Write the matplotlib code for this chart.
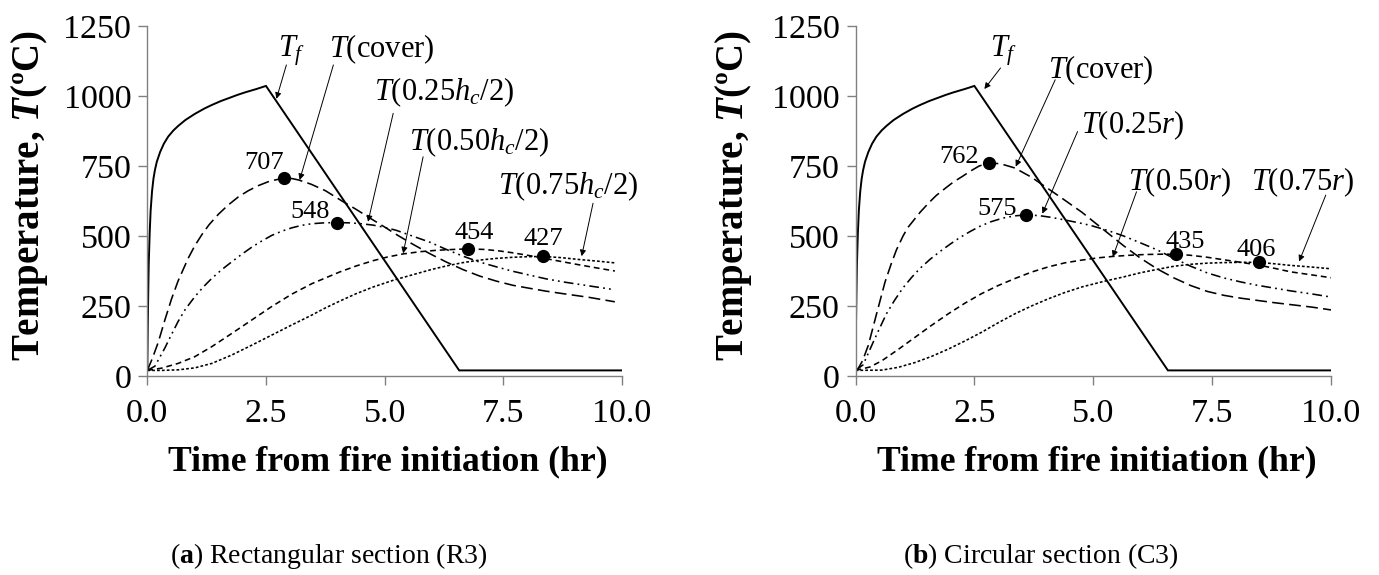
import matplotlib
matplotlib.use("Agg")
import matplotlib.pyplot as plt

plt.rcParams['font.family'] = ['Liberation Serif', 'DejaVu Serif']
plt.rcParams['mathtext.fontset'] = 'custom'
plt.rcParams['mathtext.rm'] = 'Liberation Serif'
plt.rcParams['mathtext.it'] = 'Liberation Serif:italic'
plt.rcParams['mathtext.bf'] = 'Liberation Serif:bold'
plt.rcParams['mathtext.bfit'] = 'Liberation Serif:bold:italic'
plt.rcParams['lines.scale_dashes'] = False

# ---------------- data: fire curve (same for both panels) ----------------
tf_t = [0, 0.01, 0.02, 0.03, 0.05, 0.07, 0.1, 0.13, 0.16, 0.2, 0.27, 0.35, 0.44, 0.55, 0.65, 0.8, 1.0,
        1.2, 1.36, 1.55, 1.71, 1.9, 2.06, 2.3, 2.5, 6.57, 10.0]
tf_T = [20, 180, 300, 400, 510, 590, 660, 705, 735, 765, 800, 830, 855, 877, 893, 914, 936,
        955, 968, 982, 992, 1004, 1013, 1025, 1036, 20, 20]

# ---------------- (a) rectangular section R3 ----------------
a_cover_t = [0, 0.1, 0.23, 0.37, 0.51, 0.65, 0.86, 1.0, 1.15, 1.3, 1.5, 1.7, 1.92, 2.13, 2.34, 2.55, 2.69,
             2.88, 3.05, 3.19, 3.45, 3.75, 4.13, 4.4, 4.7, 5.0, 5.25, 5.6, 5.95, 6.3, 6.65, 7.0, 7.35,
             7.7, 8.06, 8.4, 8.76, 9.3, 9.85]
a_cover_T = [20, 60, 120, 200, 275, 340, 420, 465, 505, 540, 578, 610, 640, 662, 680, 694, 700,
             707, 705, 700, 685, 662, 622, 595, 563, 532, 505, 470, 437, 407, 380, 357, 339,
             324, 313, 303, 294, 281, 265]
a_q25_t = [0, 0.16, 0.37, 0.5, 0.65, 0.8, 1.0, 1.18, 1.36, 1.57, 1.78, 2.0, 2.2, 2.41, 2.62, 2.83, 3.04,
           3.25, 3.47, 3.73, 3.99, 4.25, 4.5, 4.75, 5.0, 5.25, 5.5, 5.75, 5.95, 6.3, 6.65, 7.0, 7.35,
           7.7, 8.06, 8.4, 8.76, 9.3, 9.85]
a_q25_T = [20, 35, 100, 145, 195, 238, 283, 318, 349, 380, 408, 436, 460, 482, 502, 517, 529,
           538, 544, 547, 548, 547, 544, 539, 531, 520, 505, 490, 478, 452, 428, 407, 390,
           374, 360, 347, 336, 322, 308]
a_q50_t = [0, 0.3, 0.65, 1.0, 1.36, 1.78, 2.2, 2.62, 3.04, 3.47, 3.75, 4.06, 4.4, 4.76, 5.06, 5.39, 5.75,
           6.1, 6.45, 6.76, 7.1, 7.4, 7.7, 8.05, 8.4, 8.75, 9.1, 9.5, 9.85]
a_q50_T = [20, 28, 45, 69, 105, 152, 200, 248, 292, 330, 350, 372, 393, 412, 425, 436, 444,
           449, 452, 454, 452, 447, 440, 430, 419, 408, 397, 385, 375]
a_q75_t = [0, 0.3, 0.65, 1.0, 1.36, 1.78, 2.2, 2.62, 3.04, 3.47, 3.75, 4.06, 4.4, 4.76, 5.2, 5.6, 6.0,
           6.3, 6.65, 7.0, 7.35, 7.7, 8.0, 8.34, 8.7, 9.1, 9.5, 9.85]
a_q75_T = [20, 20, 22, 29, 45, 75, 110, 146, 182, 218, 243, 268, 294, 318, 343, 362, 381,
           393, 405, 414, 420, 424, 426, 427, 423, 416, 410, 404]
a_peak_t = [2.88, 3.99, 6.76, 8.34]
a_peak_T = [707, 548, 454, 427]

# ---------------- (b) circular section C3 ----------------
b_cover_t = [0, 0.05, 0.15, 0.27, 0.44, 0.62, 0.75, 0.86, 1.0, 1.1, 1.36, 1.55, 1.7, 1.9, 2.06, 2.25, 2.4,
             2.6, 2.81, 3.05, 3.35, 3.7, 4.06, 4.4, 4.76, 5.2, 5.64, 6.0, 6.35, 6.7, 7.05, 7.4, 7.75,
             8.1, 8.45, 8.8, 9.15, 9.6, 10.0]
b_cover_T = [20, 25, 55, 110, 220, 335, 400, 450, 500, 530, 585, 620, 645, 672, 693, 713, 730,
             750, 761, 758, 743, 710, 668, 628, 585, 525, 465, 420, 382, 350, 323, 302, 288,
             278, 270, 262, 255, 246, 236]
b_q25_t = [0, 0.16, 0.37, 0.5, 0.65, 0.82, 1.0, 1.18, 1.36, 1.57, 1.78, 2.0, 2.2, 2.41, 2.62, 2.85, 3.1,
           3.35, 3.58, 3.85, 4.1, 4.41, 4.7, 4.94, 5.3, 5.64, 6.0, 6.35, 6.7, 7.05, 7.4, 7.75, 8.1,
           8.45, 8.8, 9.15, 9.6, 10.0]
b_q25_T = [20, 40, 120, 168, 222, 270, 315, 352, 385, 417, 445, 472, 495, 516, 535, 551, 564,
           572, 575, 573, 567, 557, 547, 538, 520, 500, 475, 450, 420, 392, 368, 350, 336,
           324, 314, 304, 293, 282]
b_q50_t = [0, 0.3, 0.55, 0.9, 1.25, 1.6, 1.95, 2.3, 2.65, 3.0, 3.35, 3.7, 4.06, 4.4, 4.76, 5.1, 5.41,
           5.75, 6.1, 6.45, 6.75, 7.05, 7.4, 7.75, 8.1, 8.45, 8.8, 9.15, 9.6, 10.0]
b_q50_T = [20, 32, 54, 95, 138, 181, 222, 260, 294, 323, 348, 371, 390, 404, 414, 422, 427,
           431, 434, 435, 435, 431, 424, 415, 406, 397, 385, 372, 361, 351]
b_q75_t = [0, 0.55, 0.9, 1.25, 1.6, 1.95, 2.3, 2.65, 3.0, 3.35, 3.7, 4.06, 4.4, 4.76, 5.2, 5.64, 6.0,
           6.35, 6.7, 7.05, 7.4, 7.75, 8.1, 8.48, 8.8, 9.15, 9.6, 10.0]
b_q75_T = [20, 21, 31, 48, 70, 96, 125, 156, 190, 222, 250, 276, 298, 318, 337, 354, 369,
           381, 392, 399, 403, 405, 406, 406, 401, 395, 389, 383]
b_peak_t = [2.81, 3.58, 6.75, 8.48]
b_peak_T = [762, 575, 435, 406]

x_ticks = [0, 2.5, 5.0, 7.5, 10.0]
x_ticklabels = ['0.0', '2.5', '5.0', '7.5', '10.0']
y_ticks = [0, 250, 500, 750, 1000, 1250]

# annotation layouts: (label, text_xy, arrow_start, arrow_tip)
a_labels = [
    (r'$T_f$', (3.05, 1160), (2.93, 1111), (2.72, 990)),
    (r'$T$(cover)', (4.95, 1168), (3.92, 1111), (3.21, 700)),
    (r'$T$(0.25$h_c$/2)', (6.25, 1015), (5.18, 938), (4.65, 551)),
    (r'$T$(0.50$h_c$/2)', (7.0, 834), (5.81, 783), (5.39, 438)),
    (r'$T$(0.75$h_c$/2)', (8.86, 679), (9.39, 617), (9.15, 428)),
]
a_num_xy = [(2.46, 761), (3.42, 587), (6.88, 511), (8.34, 489)]
b_labels = [
    (r'$T_f$', (3.11, 1160), (3.05, 1100), (2.71, 1025)),
    (r'$T$(cover)', (5.15, 1092), (4.2, 1058), (3.37, 748)),
    (r'$T$(0.25$r$)', (5.82, 895), (4.67, 873), (3.93, 580)),
    (r'$T$(0.50$r$)', (6.81, 691), (5.91, 658), (5.41, 425)),
    (r'$T$(0.75$r$)', (9.4, 691), (9.89, 646), (9.33, 409)),
]
b_num_xy = [(2.17, 783), (2.98, 598), (6.93, 478), (8.43, 449)]

W, H = 1379, 575
fig = plt.figure(figsize=(W / 100, H / 100), dpi=100)

GRAY = '#808080'
ls_cover = dict(color='black', lw=1.15, linestyle=(0, (8.5, 3.8)))
ls_q25 = dict(color='black', lw=1.15, linestyle=(0, (7, 3, 1.3, 3, 1.3, 3)))
ls_q50 = dict(color='black', lw=1.15, linestyle=(0, (4.2, 2.8)))
ls_q75 = dict(color='black', lw=1.15, linestyle=(0, (2.0, 1.5)))


def panel(rect, cover, q25, q50, q75, peaks, labels, num_xy):
    ax = fig.add_axes(rect)
    ax.plot(tf_t, tf_T, color='black', lw=1.4, solid_joinstyle='miter')
    ax.plot(*cover, **ls_cover)
    ax.plot(*q25, **ls_q25)
    ax.plot(*q50, **ls_q50)
    ax.plot(*q75, **ls_q75)
    ax.plot(peaks[0], peaks[1], 'o', color='black', ms=8.5, zorder=5)
    for (x, y), v in zip(num_xy, peaks[1]):
        ax.text(x, y, str(v), fontsize=19, ha='center', va='center')
    for lab, txy, a0, a1 in labels:
        ax.text(txy[0], txy[1], lab, fontsize=22, ha='center', va='center')
        ax.annotate('', xy=a1, xytext=a0,
                    arrowprops=dict(arrowstyle='-|>', color='black', lw=0.7,
                                    mutation_scale=9, shrinkA=0, shrinkB=0))
    ax.set_xlim(0, 10)
    ax.set_ylim(0, 1250)
    ax.set_xticks(x_ticks)
    ax.set_xticklabels(x_ticklabels)
    ax.set_yticks(y_ticks)
    for s in ['top', 'right']:
        ax.spines[s].set_visible(False)
    for s in ['left', 'bottom']:
        ax.spines[s].set_color(GRAY)
        ax.spines[s].set_linewidth(1.0)
    ax.tick_params(axis='both', direction='out', color=GRAY, width=1.0, length=6.5,
                   labelsize=24.5)
    ax.tick_params(axis='x', pad=10)
    ax.tick_params(axis='y', pad=5)
    ax.patch.set_alpha(0)
    return ax


def frac_rect(x0, x1, y_top, y_bot):
    return [x0 / W, 1 - y_bot / H, (x1 - x0) / W, (y_bot - y_top) / H]


axa = panel(frac_rect(147.3, 622, 26, 376),
            (a_cover_t, a_cover_T), (a_q25_t, a_q25_T), (a_q50_t, a_q50_T), (a_q75_t, a_q75_T),
            (a_peak_t, a_peak_T), a_labels, a_num_xy)
axb = panel(frac_rect(855.5, 1331, 26, 376),
            (b_cover_t, b_cover_T), (b_q25_t, b_q25_T), (b_q50_t, b_q50_T), (b_q75_t, b_q75_T),
            (b_peak_t, b_peak_T), b_labels, b_num_xy)

ylab = r'Temperature, $\mathbfit{T}$(ºC)'
xlab = 'Time from fire initiation (hr)'
fig.text(30 / W, 1 - 196 / H, ylab, rotation=90, ha='center', va='center', fontsize=28, fontweight='bold')
fig.text(733 / W, 1 - 196 / H, ylab, rotation=90, ha='center', va='center', fontsize=28, fontweight='bold')
fig.text(388 / W, 1 - 462 / H, xlab, ha='center', va='center', fontsize=25.7, fontweight='bold')
fig.text(1097 / W, 1 - 462 / H, xlab, ha='center', va='center', fontsize=25.7, fontweight='bold')

fig.text(329 / W, 1 - 556 / H, r'($\mathbf{a}$) Rectangular section (R3)', ha='center', va='center', fontsize=20)
fig.text(1041 / W, 1 - 556 / H, r'($\mathbf{b}$) Circular section (C3)', ha='center', va='center', fontsize=20)

fig.savefig('out.png', dpi=100)
